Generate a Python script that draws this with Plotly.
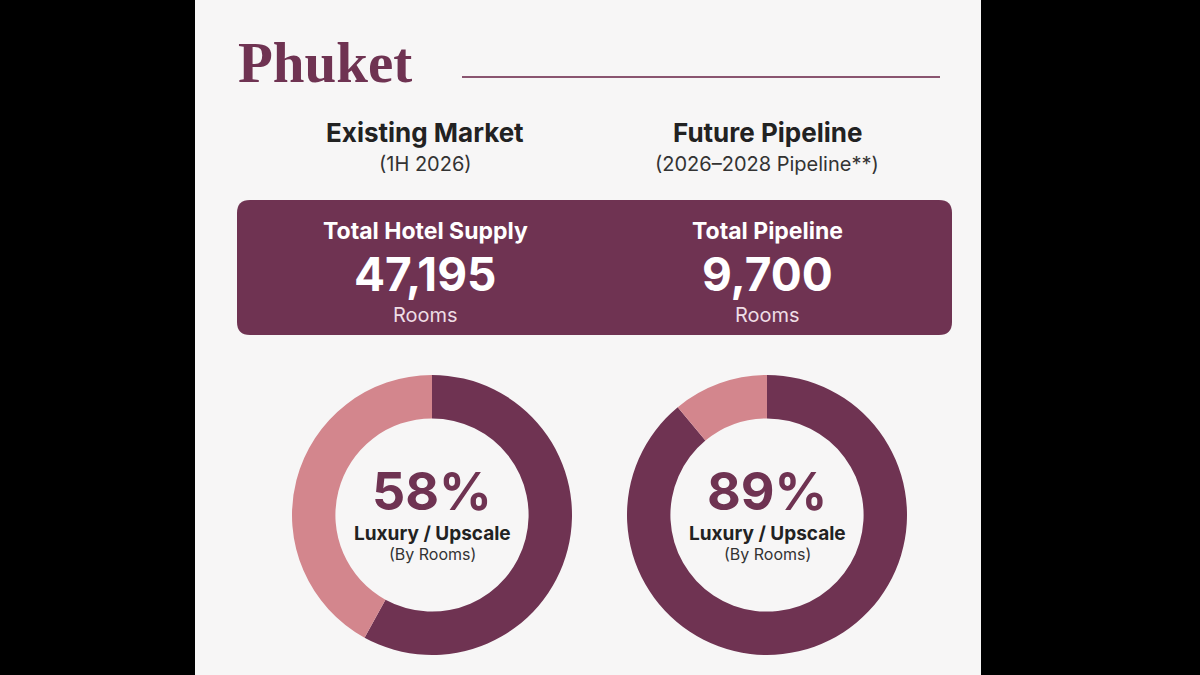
import plotly.graph_objects as go

W, H = 1200, 675
segments = ["Luxury / Upscale", "Other"]
existing_share = [58, 42]
pipeline_share = [89, 11]
column_titles = ["Existing Market", "Future Pipeline"]
column_subtitles = ["(1H 2026)", "(2026–2028 Pipeline**)"]
box_labels = ["Total Hotel Supply", "Total Pipeline"]
box_values = ["47,195", "9,700"]
DARK, PINK, BG = "#6f3352", "#d3868d", "#f7f6f6"
FONT = "Inter"

def px(x): return x / W
def py(y): return 1 - y / H

fig = go.Figure()
centers = [432, 767]
R = 140
for cx, vals in zip(centers, [existing_share, pipeline_share]):
    fig.add_trace(go.Pie(labels=segments, values=vals, sort=False, direction="clockwise",
                         rotation=0, hole=0.69, textinfo="none", hoverinfo="skip",
                         marker=dict(colors=[DARK, PINK], line=dict(width=0)),
                         domain=dict(x=[px(cx - R), px(cx + R)], y=[py(515 + R), py(515 - R)]),
                         showlegend=False))

shapes = [
    dict(type="rect", xref="paper", yref="paper", x0=px(195), x1=px(981), y0=0, y1=1,
         fillcolor=BG, line_width=0, layer="below"),
    dict(type="line", xref="paper", yref="paper", x0=px(462), x1=px(940), y0=py(77), y1=py(77),
         line=dict(color="#8a5570", width=2)),
    dict(type="path", xref="paper", yref="paper", fillcolor=DARK, line_width=0,
         path=f"M {px(250)} {py(200)} L {px(939)} {py(200)} Q {px(952)} {py(200)} {px(952)} {py(213)} "
              f"L {px(952)} {py(322)} Q {px(952)} {py(335)} {px(939)} {py(335)} "
              f"L {px(250)} {py(335)} Q {px(237)} {py(335)} {px(237)} {py(322)} "
              f"L {px(237)} {py(213)} Q {px(237)} {py(200)} {px(250)} {py(200)} Z"),
]

ann = []
def t(x, y, s, size, color, bold=False, fam=FONT):
    ann.append(dict(xref="paper", yref="paper", x=px(x), y=py(y), text=f"<b>{s}</b>" if bold else s,
                    showarrow=False, font=dict(size=size, color=color, family=fam),
                    xanchor="center", yanchor="middle"))

ann.append(dict(xref="paper", yref="paper", x=px(236), y=py(62), text="<b>Phuket</b>", showarrow=False,
                xanchor="left", yanchor="middle", font=dict(size=57, color=DARK, family="Liberation Serif")))
for i, cx in enumerate(centers):
    ox = cx - 7 if i == 0 else cx
    t(ox, 132, column_titles[i], 26, "#222222", True)
    t(ox, 164, column_subtitles[i], 20, "#333333")
    t(ox, 231, box_labels[i], 23, "white", True)
    t(ox, 274, box_values[i], 46, "white", True)
    t(ox, 315, "Rooms", 20, "#eedde5")
    share = [existing_share, pipeline_share][i][0]
    t(cx, 491, f"{share}%", 52, DARK, True)
    t(cx, 533, "Luxury / Upscale", 19, "#222222", True)
    t(cx, 554, "(By Rooms)", 16, "#333333")

fig.update_layout(width=W, height=H, margin=dict(l=0, r=0, t=0, b=0),
                  paper_bgcolor="black", plot_bgcolor="black", shapes=shapes, annotations=ann)
fig.write_html("out.html", config={"displayModeBar": False})
with open("out.html", encoding="utf-8") as f:
    html = f.read()
html = html.replace("<head>", "<head><style>html,body{margin:0;padding:0;background:black;}</style>", 1)
with open("out.html", "w", encoding="utf-8") as f:
    f.write(html)
